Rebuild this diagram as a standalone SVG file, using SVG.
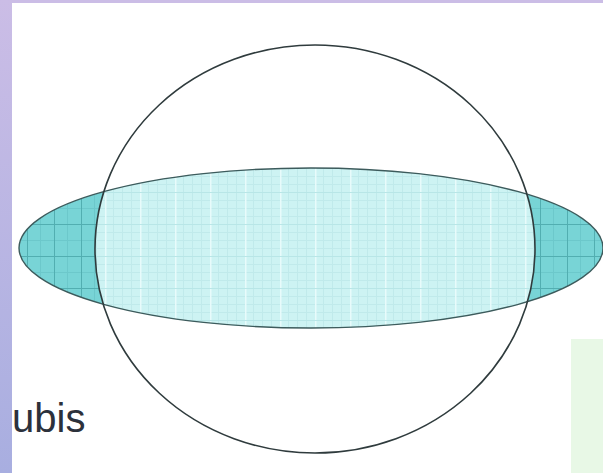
<svg xmlns="http://www.w3.org/2000/svg" width="603" height="473" viewBox="0 0 603 473">
  <defs>
    <linearGradient id="band" x1="0" y1="0" x2="0" y2="1">
      <stop offset="0" stop-color="#cbbde6"/>
      <stop offset="1" stop-color="#a8aee0"/>
    </linearGradient>
    <pattern id="gridLight" patternUnits="userSpaceOnUse" x="0" y="0" width="35" height="32">
      <rect width="35" height="32" fill="#cdf3f3"/>
      <path d="M8.5 0V32M17.5 0V32M26.5 0V32M0 8.5H35M0 16.5H35M0 24.5H35" stroke="#c0eaeb" stroke-width="1"/>
      <path d="M0.5 0V32" stroke="#e8fbfb" stroke-width="2"/>
      <path d="M0 0.5H35" stroke="#b8e6e7" stroke-width="1"/>
    </pattern>
    <pattern id="gridDark" patternUnits="userSpaceOnUse" x="0" y="0" width="27" height="32">
      <rect width="27" height="32" fill="#78d4d6"/>
      <path d="M13.5 0V32M0 16.5H27" stroke="#6cc8cb" stroke-width="1"/>
      <path d="M0.5 0V32M0 0.5H27" stroke="#52aeb1" stroke-width="1"/>
    </pattern>
    <clipPath id="circleClip">
      <ellipse cx="315" cy="249" rx="220" ry="204"/>
    </clipPath>
    <style>
      .outline { fill: none; stroke: #2f3b3d; stroke-width: 1.6; }
      .lens { fill: none; stroke: #3d5b5c; stroke-width: 1.4; }
      .label { font-family: "Liberation Sans", Arial, sans-serif; font-size: 40px; fill: #2c313b; }
    </style>
  </defs>

  <rect x="0" y="0" width="603" height="473" fill="#ffffff"/>

  <g id="green-panel">
    <rect x="571" y="339" width="32" height="134" fill="#e8f8e6"/>
  </g>

  <g id="label">
    <text class="label" x="12" y="432">ubis</text>
  </g>

  <g id="ellipse">
    <ellipse cx="311" cy="248" rx="292" ry="80" fill="url(#gridDark)"/>
    <g clip-path="url(#circleClip)">
      <ellipse cx="311" cy="248" rx="292" ry="80" fill="url(#gridLight)"/>
    </g>
    <ellipse class="lens" cx="311" cy="248" rx="292" ry="80"/>
  </g>

  <g id="circle">
    <ellipse class="outline" cx="315" cy="249" rx="220" ry="204"/>
  </g>

  <g id="frame">
    <rect x="0" y="0" width="603" height="3" fill="#cbbde6"/>
    <rect x="0" y="0" width="12" height="473" fill="url(#band)"/>
  </g>

  <g id="connectors"/>
</svg>
